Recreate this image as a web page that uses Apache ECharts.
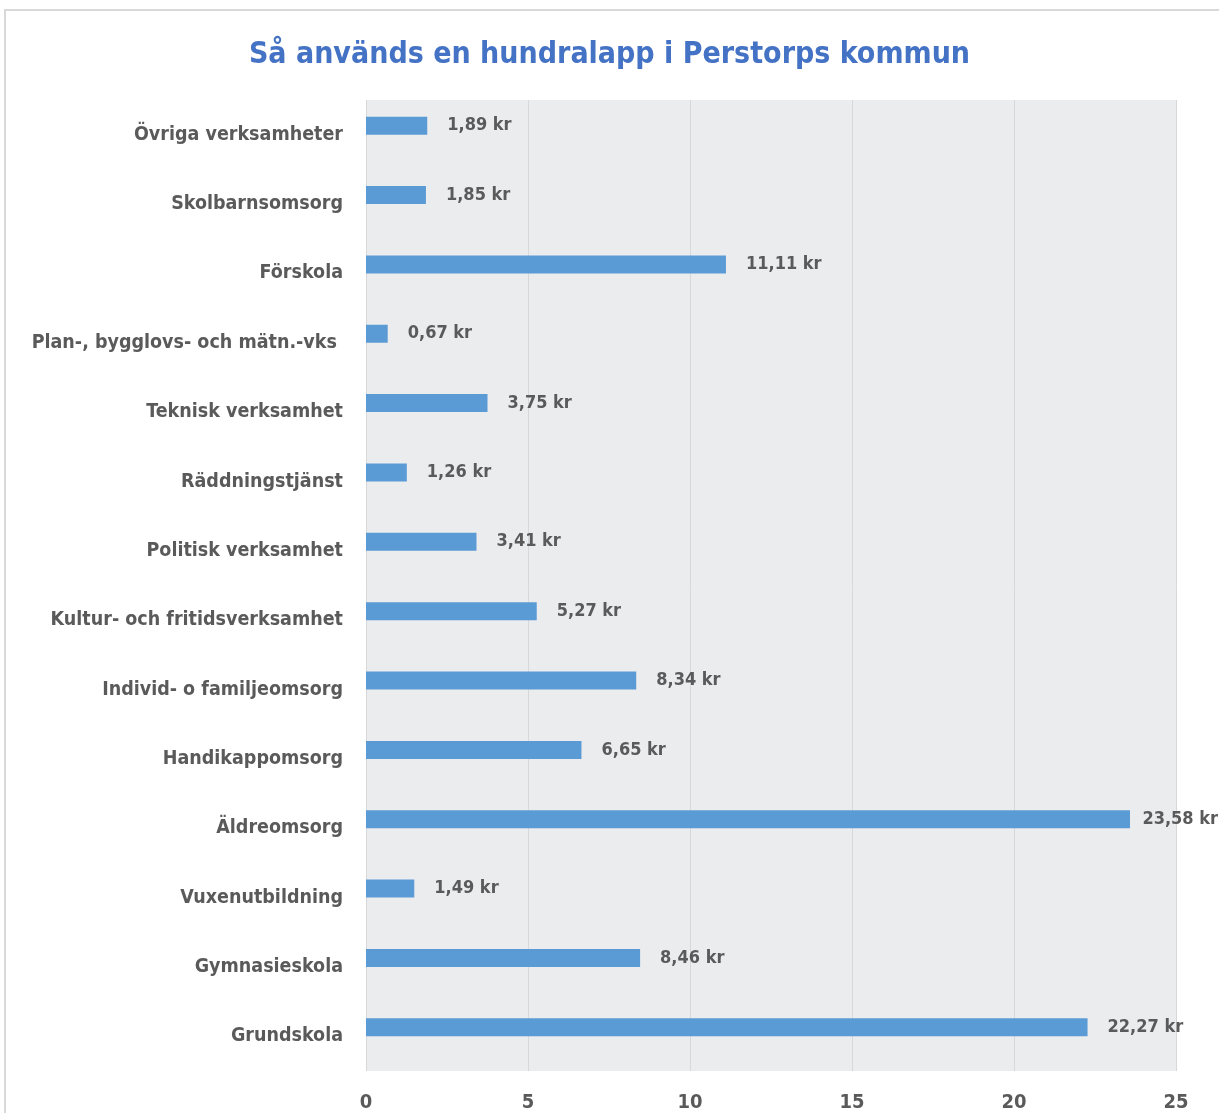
<!DOCTYPE html>
<html>
<head>
<meta charset="utf-8">
<script src="https://cdn.jsdelivr.net/npm/echarts@6/dist/echarts.min.js"></script>
<style>
html,body{margin:0;padding:0;background:#fff;}
#chart{width:1219px;height:1113px;}
</style>
</head>
<body>
<div id="chart"></div>
<script>
const title = 'Så används en hundralapp i Perstorps kommun';
const categories = [
  'Grundskola',
  'Gymnasieskola',
  'Vuxenutbildning',
  'Äldreomsorg',
  'Handikappomsorg',
  'Individ- o familjeomsorg',
  'Kultur- och fritidsverksamhet',
  'Politisk verksamhet',
  'Räddningstjänst',
  'Teknisk verksamhet',
  'Plan-, bygglovs- och mätn.-vks ',
  'Förskola',
  'Skolbarnsomsorg',
  'Övriga verksamheter'
];
const values = [22.27, 8.46, 1.49, 23.58, 6.65, 8.34, 5.27, 3.41, 1.26, 3.75, 0.67, 11.11, 1.85, 1.89];
const xTicks = { min: 0, max: 25, interval: 5 };

const FONT = '"Liberation Sans Narrow", "DejaVu Sans Condensed", "Open Sans", sans-serif';
const TXT = '#5a5a5a';
const W = 1219;

const chart = echarts.init(document.getElementById('chart'), null, { renderer: 'canvas' });
chart.setOption({
  backgroundColor: '#ffffff',
  animation: false,
  title: {
    text: title,
    left: 'center',
    top: 35,
    textStyle: { color: '#4472C4', fontSize: 30, fontWeight: 'bold', fontFamily: FONT }
  },
  graphic: [{
    type: 'rect',
    shape: { x: 5, y: 10, width: 1240, height: 1130 },
    style: { fill: 'none', stroke: '#d9d9d9', lineWidth: 2 },
    silent: true,
    z: -10
  }],
  grid: {
    left: 366, right: 43, top: 100, bottom: 41,
    show: true,
    backgroundColor: '#eaecee',
    borderWidth: 0
  },
  xAxis: {
    type: 'value',
    min: xTicks.min, max: xTicks.max, interval: xTicks.interval,
    axisLine: { show: false },
    axisTick: { show: false },
    splitLine: { show: true, lineStyle: { color: '#d6d8da', width: 1 } },
    axisLabel: { color: TXT, fontSize: 20, fontWeight: 'bold', fontFamily: FONT, margin: 22 }
  },
  yAxis: {
    type: 'category',
    data: categories,
    axisLine: { show: false },
    axisTick: { show: false },
    axisLabel: { color: TXT, fontSize: 19.5, fontWeight: 'bold', fontFamily: FONT, margin: 23 }
  },
  series: [
    {
      type: 'bar',
      data: values,
      barWidth: 18,
      barGap: '0%',
      itemStyle: { color: '#5B9BD5' },
      label: {
        show: true,
        position: 'right',
        distance: 20,
        color: TXT,
        fontSize: 18,
        fontWeight: 'bold',
        fontFamily: FONT,
        formatter: p => p.value.toFixed(2).replace('.', ',') + ' kr'
      },
      labelLayout: function (params) {
        const r = params.labelRect;
        if (r.x + r.width > W - 1) {
          return { x: W - 1 - r.width, y: r.y + r.height / 2, align: 'left', verticalAlign: 'middle' };
        }
        return {};
      }
    },
    {
      type: 'bar',
      data: categories.map(() => null),
      barWidth: 18,
      barGap: '0%',
      silent: true
    }
  ]
});
</script>
</body>
</html>
